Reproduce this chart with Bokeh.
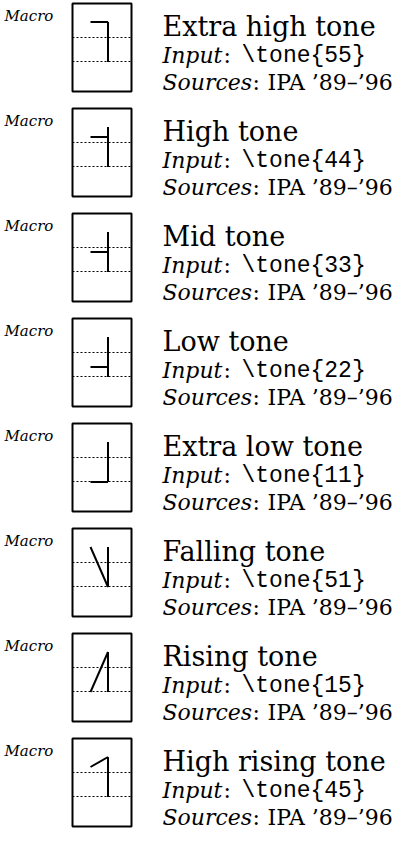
from bokeh.plotting import figure
from bokeh.models import Range1d, ColumnDataSource
from bokeh.core.properties import value
from bokeh.embed import file_html
from bokeh.resources import INLINE

# ---- data ----
tone_names = ["Extra high tone", "High tone", "Mid tone", "Low tone",
              "Extra low tone", "Falling tone", "Rising tone", "High rising tone"]
tone_codes = ["55", "44", "33", "22", "11", "51", "15", "45"]
macro_labels = ["Macro"] * len(tone_names)
source_labels = ["IPA \u201989\u2013\u201996"] * len(tone_names)
input_word = "Input"
sources_word = "Sources"

# ---- layout constants ----
W, H = 402, 836
TOP0 = 3.0
STEP = 105.0
BOX_L, BOX_R, BOX_H = 72.0, 131.0, 88.0
X_START, X_STEM = 90.0, 107.5
TX = 162.0

n = len(tone_names)
tops = [TOP0 + STEP * i for i in range(n)]

def level_y(top, lvl):
    return top + 18.5 + (5 - lvl) * 10.0

p = figure(width=W, height=H, x_range=Range1d(0, W), y_range=Range1d(H, 0),
           output_backend="svg", toolbar_location=None, min_border=0,
           background_fill_color="white", border_fill_color="white")
p.axis.visible = False
p.grid.visible = False
p.outline_line_color = None

# boxes
p.quad(left=[BOX_L] * n, right=[BOX_R] * n, top=tops,
       bottom=[t + BOX_H for t in tops], fill_color=None,
       line_color="black", line_width=2)

# dotted guide lines
gx0, gx1, gy = [], [], []
for t in tops:
    for off in (34.0, 58.0):
        gx0.append(BOX_L); gx1.append(BOX_R); gy.append(t + off)
p.segment(x0=gx0, y0=gy, x1=gx1, y1=gy, line_color="black",
          line_width=1, line_dash="2 2")

# tone letters: stem + contour
sx0, sy0, sx1, sy1 = [], [], [], []
cx0, cy0, cx1, cy1 = [], [], [], []
for t, code in zip(tops, tone_codes):
    a, b = int(code[0]), int(code[1])
    sx0.append(X_STEM); sx1.append(X_STEM)
    sy0.append(level_y(t, 5)); sy1.append(level_y(t, 1))
    cx0.append(X_START); cy0.append(level_y(t, a))
    cx1.append(X_STEM); cy1.append(level_y(t, b))
p.segment(x0=sx0, y0=sy0, x1=sx1, y1=sy1, line_color="black", line_width=2)
p.segment(x0=cx0, y0=cy0, x1=cx1, y1=cy1, line_color="black", line_width=2)

SERIF = value("DejaVu Serif")
MONO = value("Liberation Mono")

def txt(xs, ys, texts, font, size, style="normal"):
    src = ColumnDataSource(dict(x=xs, y=ys, text=texts))
    p.text(x="x", y="y", text="text", source=src, text_font=font,
           text_font_size=size, text_font_style=style,
           text_baseline="alphabetic", text_align="left", text_color="black")

# "Macro" labels
txt([4.0] * n, [t + 12 for t in tops], macro_labels, SERIF, "15px", "italic")
# titles
txt([TX] * n, [t + 23 for t in tops], tone_names, SERIF, "27px")
# Input line
txt([TX] * n, [t + 52 for t in tops], [input_word] * n, SERIF, "22px", "italic")
txt([TX + 61] * n, [t + 52 for t in tops], [":"] * n, SERIF, "22px")
txt([TX + 79] * n, [t + 52 for t in tops],
    ["\\tone{" + c + "}" for c in tone_codes], MONO, "23px")
# Sources line
txt([TX] * n, [t + 79 for t in tops], [sources_word] * n, SERIF, "22px", "italic")
txt([TX + 90] * n, [t + 79 for t in tops], [":"] * n, SERIF, "22px")
txt([TX + 105] * n, [t + 79 for t in tops], source_labels, SERIF, "22px")

open("out.html", "w").write(file_html(p, INLINE))
